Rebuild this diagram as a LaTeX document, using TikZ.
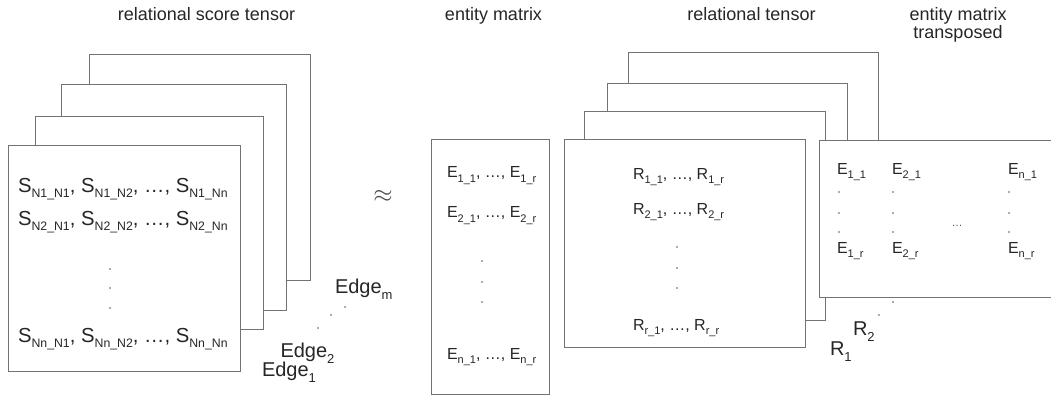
\documentclass[tikz,border=0pt]{standalone}
\usepackage{fontspec}
\setmainfont{Liberation Sans}
% subscripts for the large and the small matrix entries
\newcommand\bigsub[1]{\raisebox{-5.5pt}{\fontsize{12.3}{13}\selectfont #1}}
\newcommand\smsub[1]{\raisebox{-4.5pt}{\fontsize{11}{12}\selectfont #1}}
\newcommand\lblsub[1]{\raisebox{-6pt}{\fontsize{13}{14}\selectfont #1}}
\begin{document}
\begin{tikzpicture}[x=1pt,y=-1pt,
  box/.style={draw=black!55, line width=0.8pt, fill=white, inner sep=0pt,
    outer sep=0pt, anchor=north west},
  entry/.style={inner sep=0pt, outer sep=0pt, anchor=base west, text=black!85},
  bigtxt/.style={entry, font=\fontsize{20.3}{21}\selectfont},
  smtxt/.style={entry, font=\fontsize{16}{17}\selectfont},
  lbltxt/.style={entry, font=\fontsize{20}{21}\selectfont},
  title/.style={inner sep=0pt, outer sep=0pt, anchor=base, text=black!85,
    font=\fontsize{18}{19}\selectfont},
  pt/.style={circle, fill=black!65, inner sep=0pt, minimum size=1.7pt},
]
\fill[white] (0,0) rectangle (1051,396);
\useasboundingbox (0,0) rectangle (1051,396);

% titles
\node[title] (tS) at (206.5,21) {relational score tensor};
\node[title] (tE) at (493.5,21) {entity matrix};
\node[title] (tR) at (751.5,21) {relational tensor};
\node[title] (tT1) at (958,21) {entity matrix};
\node[title] (tT2) at (958,39) {transposed};

% relational score tensor: stacked slices
\node[box, minimum width=221pt, minimum height=226pt] (s4) at (89,54) {};
\node[box, minimum width=225pt, minimum height=226pt] (s3) at (61,84) {};
\node[box, minimum width=228pt, minimum height=213pt] (s2) at (35,116) {};
\node[box, minimum width=232pt, minimum height=226pt] (s1) at (8,145) {};

\node[bigtxt] (sr1) at (18,192) {S\bigsub{N1\_N1}, S\bigsub{N1\_N2}, …, S\bigsub{N1\_Nn}};
\node[bigtxt] (sr2) at (18,225) {S\bigsub{N2\_N1}, S\bigsub{N2\_N2}, …, S\bigsub{N2\_Nn}};
\node[bigtxt] (srn) at (18,342) {S\bigsub{Nn\_N1}, S\bigsub{Nn\_N2}, …, S\bigsub{Nn\_Nn}};
\node[pt] (sd1) at (110,269) {};
\node[pt] (sd2) at (110,288) {};
\node[pt] (sd3) at (110,308) {};

% slice labels
\node[lbltxt] (edm) at (335,293) {Edge\lblsub{m}};
\node[lbltxt] (ed2) at (280.5,357) {Edge\lblsub{2}};
\node[lbltxt] (ed1) at (262,376) {Edge\lblsub{1}};
\node[pt] (ed1d) at (345,307) {};
\node[pt] (ed2d) at (331,315) {};
\node[pt] (ed3d) at (318,328) {};

% approximately equal
\node[inner sep=0pt, text=black!70, font=\fontsize{30}{30}\selectfont] (approx) at (383,196) {$\approx$};

% entity matrix
\node[box, minimum width=118pt, minimum height=255pt] (em) at (431,139) {};
\node[smtxt] (er1) at (447,177.5) {E\smsub{1\_1}, …, E\smsub{1\_r}};
\node[smtxt] (er2) at (447,217.5) {E\smsub{2\_1}, …, E\smsub{2\_r}};
\node[smtxt] (ern) at (447,359) {E\smsub{n\_1}, …, E\smsub{n\_r}};
\node[pt] (ed1) at (482,261) {};
\node[pt] (ed2) at (482,282) {};
\node[pt] (ed3) at (482,302) {};

% relational tensor: stacked slices
\node[box, minimum width=250pt, minimum height=210pt] (r4) at (628,52) {};
\node[box, minimum width=240pt, minimum height=209pt] (r3) at (607,83) {};
\node[box, minimum width=241pt, minimum height=209pt] (r2) at (584,111) {};
\node[box, minimum width=241pt, minimum height=208pt] (r1) at (564,139) {};

\node[smtxt] (rr1) at (633,179) {R\smsub{1\_1}, …, R\smsub{1\_r}};
\node[smtxt] (rr2) at (633,214) {R\smsub{2\_1}, …, R\smsub{2\_r}};
\node[smtxt] (rrr) at (633,330) {R\smsub{r\_1}, …, R\smsub{r\_r}};
\node[pt] (rd1) at (677,247) {};
\node[pt] (rd2) at (677,268) {};
\node[pt] (rd3) at (677,288) {};

% entity matrix transposed
\node[box, minimum width=234pt, minimum height=157pt] (et) at (819,140) {};
\node[smtxt] (t11) at (837,174) {E\smsub{1\_1}};
\node[smtxt] (t21) at (892,174) {E\smsub{2\_1}};
\node[smtxt] (tn1) at (1008,174) {E\smsub{n\_1}};
\node[smtxt] (t1r) at (837,253) {E\smsub{1\_r}};
\node[smtxt] (t2r) at (892,253) {E\smsub{2\_r}};
\node[smtxt] (tnr) at (1008,253) {E\smsub{n\_r}};
\foreach \cx in {839,893,1009}{
  \foreach \cy in {192,213,232}{
    \node[pt] at (\cx,\cy) {};
  }
}
\node[inner sep=0pt, text=black!70, font=\fontsize{11}{12}\selectfont] (tdots) at (957,226) {…};

% slice labels of the relational tensor
\node[lbltxt] (rl2) at (853,335) {R\lblsub{2}};
\node[lbltxt] (rl1) at (830,355) {R\lblsub{1}};
\node[pt] (rld1) at (893,302) {};
\node[pt] (rld2) at (879,315) {};
\end{tikzpicture}
\end{document}
